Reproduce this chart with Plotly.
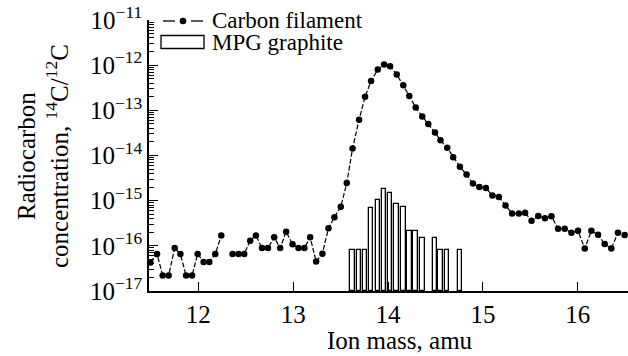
import plotly.graph_objects as go

# ---------------- data ----------------
mass = [11.495, 11.565, 11.624, 11.687, 11.751, 11.811, 11.871, 11.934, 11.993, 12.056,
        12.116, 12.179, 12.242, 12.305, 12.361, 12.424, 12.484, 12.547, 12.607, 12.671,
        12.734, 12.800, 12.863, 12.926, 12.993, 13.056, 13.119, 13.179, 13.242, 13.308,
        13.372, 13.435, 13.502, 13.565, 13.626, 13.695, 13.758, 13.821, 13.892, 13.958,
        14.021, 14.092, 14.161, 14.224, 14.292, 14.361, 14.424, 14.495, 14.553, 14.624,
        14.687, 14.758, 14.828, 14.895, 14.963, 15.032, 15.100, 15.168, 15.239, 15.308,
        15.379, 15.445, 15.513, 15.584, 15.655, 15.723, 15.793, 15.863, 15.934, 16.003,
        16.074, 16.144, 16.214, 16.284, 16.354, 16.424, 16.495]

carbon_filament = [4.3e-17, 6.6e-17, 2.2e-17, 2.2e-17, 8.9e-17, 6.6e-17, 2.2e-17, 2.2e-17, 6.6e-17, 4.4e-17,
                   4.4e-17, 6.6e-17, 1.7e-16, None, 6.6e-17, 6.6e-17, 6.6e-17, 1.3e-16, 1.7e-16, 8.9e-17,
                   8.9e-17, 1.55e-16, 8.9e-17, 2.06e-16, 1.09e-16, 8.9e-17, 8.9e-17, 1.55e-16, 4.5e-17, 6.7e-17,
                   2.45e-16, 4.3e-16, 7.3e-16, 2.46e-15, 1.43e-14, 6.2e-14, 2.0e-13, 4.45e-13, 8.0e-13, 1.03e-12,
                   9.5e-13, 6.25e-13, 3.6e-13, 2.08e-13, 1.15e-13, 7.3e-14, 4.98e-14, 3.25e-14, 2.17e-14, 1.48e-14,
                   9.2e-15, 5.65e-15, 3.8e-15, 2.39e-15, 2.0e-15, 1.91e-15, 1.3e-15, 1.21e-15, 7.85e-16, 5.2e-16,
                   5.2e-16, 5.37e-16, 3.6e-16, 4.56e-16, 4.1e-16, 4.5e-16, 2.39e-16, 2.39e-16, 1.96e-16, 2.17e-16,
                   8.7e-17, 2.17e-16, 1.75e-16, 1.1e-16, 8.7e-17, 1.96e-16, 1.73e-16]

bar_mass = [13.626, 13.695, 13.758, 13.821, 13.892, 13.958, 14.021, 14.092, 14.161, 14.224,
            14.292, 14.361, 14.495, 14.553, 14.624, 14.758]
mpg_graphite = [6.9e-17, 6.9e-17, 6.9e-17, 6.9e-16, 1.0e-15, 1.8e-15, 1.5e-15, 8.3e-16, 7.3e-16, 2.0e-16,
                2.0e-16, 1.4e-16, 1.4e-16, 6.9e-17, 6.9e-17, 6.9e-17]

x_ticks = [12, 13, 14, 15, 16]
y_exponents = [-17, -16, -15, -14, -13, -12, -11]

series_names = ["Carbon filament", "MPG graphite"]
x_title = "Ion mass, amu"
y_title = "Radiocarbon<br>concentration, <sup>14</sup>C/<sup>12</sup>C"

# ---------------- layout constants ----------------
W, H = 628, 356
L, R, T, B = 149, 0, 20, 65
PW, PH = W - L - R, H - T - B
FONT = "Liberation Serif, Times New Roman, serif"
FS = 25
FS_LEG = 23


def px_x(p):
    return (p - L) / PW


def px_y(p):
    return 1 - (p - T) / PH


fig = go.Figure()

fig.add_trace(go.Bar(
    x=bar_mass, y=mpg_graphite, base=1e-17, width=0.048,
    marker=dict(color="white", line=dict(color="black", width=1.3)),
    name=series_names[1], showlegend=False,
))

fig.add_trace(go.Scatter(
    x=mass, y=carbon_filament, mode="lines+markers", connectgaps=False,
    line=dict(color="black", width=1.2, dash="5px,2px"),
    marker=dict(color="black", size=6.5),
    name=series_names[0], showlegend=False,
))

fig.update_layout(
    width=W, height=H,
    margin=dict(l=L, r=R, t=T, b=B, pad=0),
    paper_bgcolor="white", plot_bgcolor="white",
    font=dict(family=FONT, size=FS, color="black"),
    bargap=0,
)

fig.update_xaxes(
    range=[11.48, 16.53], tickvals=x_ticks, ticktext=[str(v) for v in x_ticks],
    ticks="inside", ticklen=9, tickwidth=1.3, tickcolor="black",
    showline=True, linecolor="black", linewidth=1.5,
    showgrid=False, zeroline=False,
    tickfont=dict(family=FONT, size=FS, color="black"),
)

fig.update_yaxes(
    type="log", range=[-17, -11],
    tickvals=[10.0 ** e for e in y_exponents],
    ticktext=["10<sup>\u2212%d</sup>" % (-e) for e in y_exponents],
    ticks="inside", ticklen=9, tickwidth=1.3, tickcolor="black",
    minor=dict(ticks="inside", ticklen=5, tickwidth=1, tickcolor="black", dtick="D1", showgrid=False),
    showline=True, linecolor="black", linewidth=1.5,
    showgrid=False, zeroline=False,
    tickfont=dict(family=FONT, size=FS, color="black"),
)

# axis titles
fig.add_annotation(text=x_title, xref="paper", yref="paper", x=px_x(400), y=px_y(340),
                   xanchor="center", yanchor="middle", showarrow=False,
                   font=dict(family=FONT, size=FS, color="black"))
fig.add_annotation(text=y_title, xref="paper", yref="paper", x=px_x(43), y=px_y(156),
                   xanchor="center", yanchor="middle", showarrow=False, textangle=-90,
                   font=dict(family=FONT, size=FS, color="black"))

# manual legend
ly1, ly2 = 21, 42
fig.add_shape(type="line", xref="paper", yref="paper", x0=px_x(163), x1=px_x(175), y0=px_y(ly1), y1=px_y(ly1),
              line=dict(color="black", width=1.3))
fig.add_shape(type="line", xref="paper", yref="paper", x0=px_x(191), x1=px_x(203), y0=px_y(ly1), y1=px_y(ly1),
              line=dict(color="black", width=1.3))
fig.add_shape(type="circle", xref="paper", yref="paper", xsizemode="pixel", ysizemode="pixel",
              xanchor=px_x(183), yanchor=px_y(ly1), x0=-3.3, x1=3.3, y0=-3.3, y1=3.3,
              fillcolor="black", line=dict(color="black", width=0))
fig.add_shape(type="rect", xref="paper", yref="paper", x0=px_x(161), x1=px_x(204),
              y0=px_y(ly2 - 6.5), y1=px_y(ly2 + 6.5), fillcolor="white", line=dict(color="black", width=1.3))
fig.add_annotation(text=series_names[0], xref="paper", yref="paper", x=px_x(210), y=px_y(ly1),
                   xanchor="left", yanchor="middle", showarrow=False,
                   font=dict(family=FONT, size=FS_LEG, color="black"))
fig.add_annotation(text=series_names[1], xref="paper", yref="paper", x=px_x(210), y=px_y(ly2),
                   xanchor="left", yanchor="middle", showarrow=False,
                   font=dict(family=FONT, size=FS_LEG, color="black"))

fig.write_html("out.html")
